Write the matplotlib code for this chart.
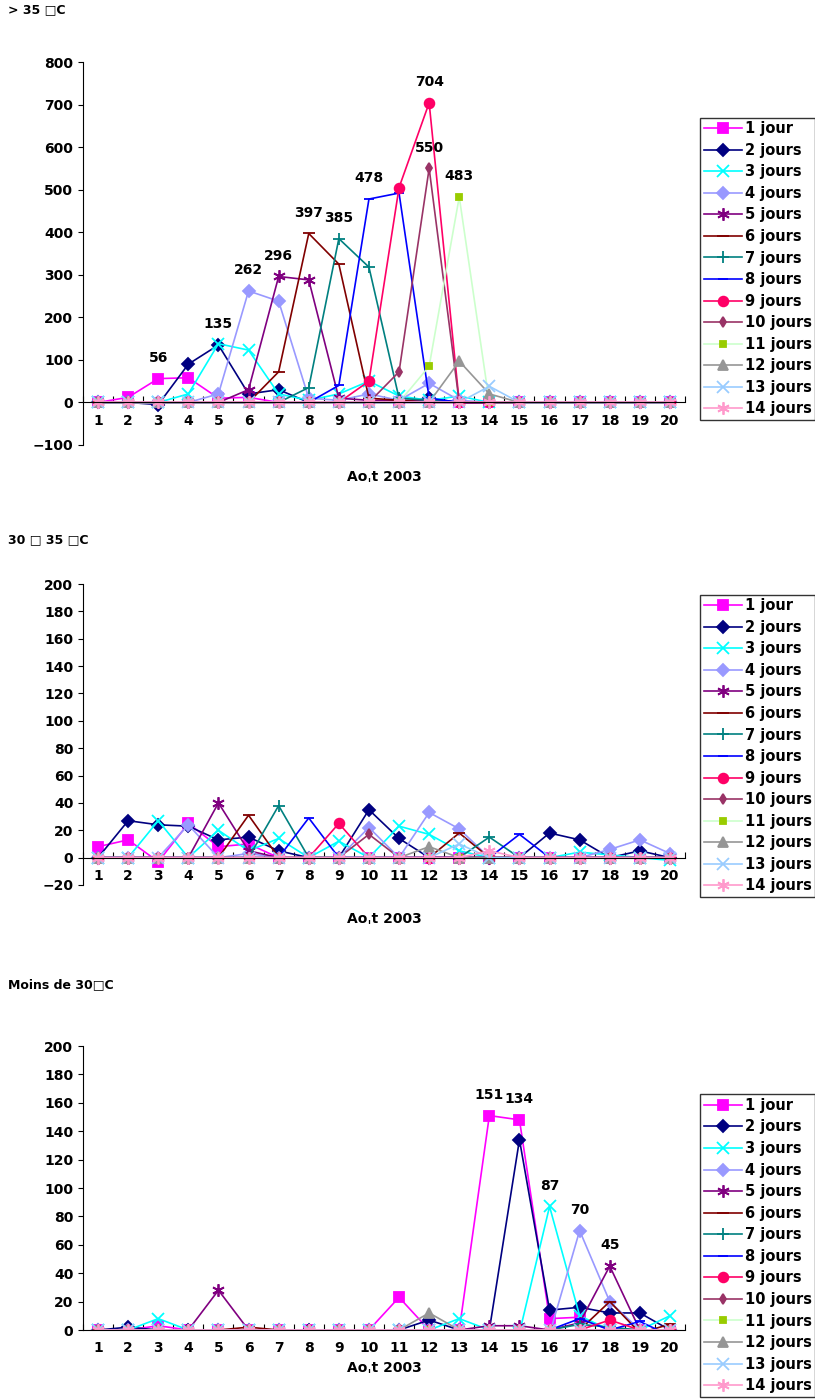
import numpy as np
import matplotlib.pyplot as plt

days = list(range(1, 21))
labels = ['1 jour'] + ['%d jours' % i for i in range(2, 15)]

# > 35 C
hot = [
    [0, 12, 56, 58, 10, 12, 0, 0, 0, 0, 0, 0, 0, 0, 0, 0, 0, 0, 0, 0],
    [0, 0, -5, 90, 135, 20, 30, 0, 0, 0, 0, 10, 0, 0, 0, 0, 0, 0, 0, 0],
    [0, 0, 0, 20, 138, 123, 20, 5, 20, 50, 15, 5, 15, 0, 0, 0, 0, 0, 0, 0],
    [0, 0, 0, 0, 20, 262, 238, 10, 5, 20, 5, 45, 5, 0, 0, 0, 0, 0, 0, 0],
    [0, 0, 0, 0, 0, 30, 296, 288, 10, 5, 5, 5, 0, 0, 0, 0, 0, 0, 0, 0],
    [0, 0, 0, 0, 0, 0, 72, 397, 325, 10, 5, 0, 0, 0, 0, 0, 0, 0, 0, 0],
    [0, 0, 0, 0, 0, 0, 0, 35, 385, 318, 10, 5, 0, 0, 0, 0, 0, 0, 0, 0],
    [0, 0, 0, 0, 0, 0, 0, 0, 40, 478, 492, 10, 0, 0, 0, 0, 0, 0, 0, 0],
    [0, 0, 0, 0, 0, 0, 0, 0, 0, 50, 505, 704, 0, 0, 0, 0, 0, 0, 0, 0],
    [0, 0, 0, 0, 0, 0, 0, 0, 0, 0, 72, 550, 0, 0, 0, 0, 0, 0, 0, 0],
    [0, 0, 0, 0, 0, 0, 0, 0, 0, 0, 0, 85, 483, 0, 0, 0, 0, 0, 0, 0],
    [0, 0, 0, 0, 0, 0, 0, 0, 0, 0, 0, 0, 97, 20, 0, 0, 0, 0, 0, 0],
    [0, 0, 0, 0, 0, 0, 0, 0, 0, 0, 0, 0, 0, 38, 0, 0, 0, 0, 0, 0],
    [0] * 20,
]
# 30 - 35 C
mid = [
    [8, 13, -3, 25, 8, 10, 0, 0, 0, 0, 0, 0, 0, 0, 0, 0, 0, 0, 0, 0],
    [0, 27, 24, 23, 13, 15, 5, 0, 0, 35, 14, 0, 0, 0, 0, 18, 13, 0, 5, 0],
    [0, 0, 27, 0, 20, 5, 14, 0, 12, 0, 23, 17, 5, 0, 0, 0, 4, 2, 0, -2],
    [0, 0, 0, 24, 0, 3, 0, 0, 0, 22, 0, 33, 21, 0, 0, 0, 0, 6, 13, 3],
    [0, 0, 0, 0, 40, 5, 0, 0, 0, 0, 0, 0, 0, 0, 0, 0, 0, 0, 0, 0],
    [0, 0, 0, 0, 0, 31, 0, 0, 0, 0, 0, 0, 18, 0, 0, 0, 0, 0, 0, 0],
    [0, 0, 0, 0, 0, 0, 38, 0, 0, 0, 0, 0, 0, 15, 0, 0, 0, 0, 0, 0],
    [0, 0, 0, 0, 0, 0, 0, 29, 0, 0, 0, 0, 0, 0, 17, 0, 0, 0, 0, 0],
    [0, 0, 0, 0, 0, 0, 0, 0, 25, 0, 0, 0, 0, 0, 0, 0, 0, 0, 0, 0],
    [0, 0, 0, 0, 0, 0, 0, 0, 0, 17, 0, 0, 0, 0, 0, 0, 0, 0, 0, 0],
    [0] * 20,
    [0, 0, 0, 0, 0, 0, 0, 0, 0, 0, 0, 8, 0, 0, 0, 0, 0, 0, 0, 0],
    [0, 0, 0, 0, 0, 0, 0, 0, 0, 0, 0, 0, 10, 0, 0, 0, 0, 0, 0, 0],
    [0, 0, 0, 0, 0, 0, 0, 0, 0, 0, 0, 0, 0, 5, 0, 0, 0, 0, 0, 0],
]
# moins de 30 C
low = [
    [0, 0, 3, 0, 0, 0, 0, 0, 0, 0, 23, 0, 0, 151, 148, 8, 9, 0, 0, 0],
    [0, 2, 0, 0, 0, 0, 0, 0, 0, 0, 0, 7, 0, 0, 134, 14, 16, 12, 12, 0],
    [0, 0, 8, 0, 0, 0, 0, 0, 0, 0, 0, 0, 8, 0, -2, 87, 10, 0, 0, 10],
    [0, 0, 0, -2, 0, 0, 0, -2, 0, 0, 0, 0, 0, 0, -3, -3, 70, 20, 0, 0],
    [0, 0, 0, 0, 28, 0, 0, 0, 0, 0, 0, 0, 0, 3, 3, 0, 5, 45, 0, 0],
    [0, 0, 0, 0, 0, 2, 0, 0, 0, 0, 0, 0, 0, 0, 0, -2, 0, 20, -2, 4],
    [0, 0, 0, 0, 0, 0, 0, 0, 0, 0, 0, 0, 0, 0, 0, 0, 4, 2, 0, 0],
    [0, 0, 0, 0, 0, 0, 0, -2, 0, 0, 0, 0, 0, 0, 0, 0, 8, 0, 6, -4],
    [0, 0, 0, 0, 0, 0, 0, 0, 0, 0, 0, 0, 0, 0, 0, 0, 0, 7, 0, 0],
    [0] * 20,
    [0] * 20,
    [0, 0, 0, 0, 0, 0, 0, 0, 0, 0, 0, 12, 0, 0, 0, 0, 0, 0, 0, 0],
    [0] * 20,
    [0] * 20,
]
hot_notes = [(3, 56), (5, 135), (6, 262), (7, 296), (8, 397), (9, 385), (10, 478), (12, 704), (12, 550), (13, 483)]
low_notes = [(14, 151), (15, 148), (16, 87), (17, 70), (18, 45)]
low_texts = ['151', '134', '87', '70', '45']

ast = (6, 2, 0)
styles = [
    ('#FF00FF', 's', '#FF00FF', 7), ('#000080', 'D', '#000080', 6), ('#00FFFF', 'x', '#00FFFF', 8),
    ('#9999FF', 'D', '#9999FF', 6), ('#800080', ast, '#800080', 9), ('#800000', '_', '#800000', 9),
    ('#008080', '+', '#008080', 9), ('#0000FF', '_', '#0000FF', 7), ('#FF0066', 'o', '#FF0066', 7),
    ('#993366', 'd', '#993366', 5), ('#CCFFCC', 's', '#99CC00', 5), ('#969696', '^', '#969696', 7),
    ('#99CCFF', 'x', '#99CCFF', 8), ('#FF99CC', ast, '#FF99CC', 9),
]

fig = plt.figure(figsize=(8.15, 14), dpi=100)
W, H = 815, 1400
# data, title, y range, axes top/bottom px, title y px, notes, note texts, xlabel y, legend top
panels = [
    (hot, '> 35 \u25a1C', (-100, 800, 100), (62, 445), 10, hot_notes, None, -0.065, 0.855),
    (mid, '30 \u25a1 35 \u25a1C', (-20, 200, 20), (584, 885), 540, None, None, -0.09, 0.965),
    (low, 'Moins de 30\u25a1C', (0, 200, 20), (1046, 1330), 985, low_notes, low_texts, None, 0.83),
]
for data, title, (lo, hi, st), (top, bot), ty, notes, ntext, xly, lgy in panels:
    ax = fig.add_axes([83 / W, 1 - bot / H, 602 / W, (bot - top) / H])
    for vals, lab, (c, m, mc, ms) in zip(data, labels, styles):
        ax.plot(days, vals, color=c, marker=m, markerfacecolor=mc, markeredgecolor=mc,
                markersize=ms, lw=1.2, label=lab, mew=1.3)
    ax.set_xlim(0.5, 20.5)
    ax.set_ylim(lo, hi)
    ax.set_yticks(np.arange(lo, hi + 1, st))
    ax.spines['top'].set_visible(False)
    ax.spines['right'].set_visible(False)
    ax.spines['bottom'].set_position(('data', 0))
    ax.set_xticks(np.arange(0.5, 21, 1))
    ax.set_xticklabels([])
    ax.tick_params(axis='x', direction='in', length=4)
    ax.set_xticks(days, minor=True)
    ax.set_xticklabels([str(d) for d in days], minor=True, fontweight='bold', fontsize=10)
    ax.tick_params(axis='x', which='minor', length=0, pad=8)
    ax.tick_params(axis='y', labelsize=10)
    for t in ax.get_yticklabels():
        t.set_fontweight('bold')
    ax.set_xlabel('Ao\u02cct 2003', fontweight='bold', fontsize=10)
    if xly is not None:
        ax.xaxis.set_label_coords(0.5, xly)
    fig.text(8 / W, 1 - ty / H, title, fontsize=9, fontweight='bold', va='center')
    if notes:
        for i, (d, v) in enumerate(notes):
            txt = ntext[i] if ntext else str(v)
            ax.annotate(txt, (d, v), xytext=(0, 12), textcoords='offset points',
                        ha='center', fontweight='bold', fontsize=10)
    leg = ax.legend(loc='upper left', bbox_to_anchor=(1.025, lgy),
                    frameon=True, fancybox=False, edgecolor='black',
                    prop={'weight': 'bold', 'size': 10.5}, handlelength=2.6,
                    borderaxespad=0, labelspacing=0.45, borderpad=0.25, handletextpad=0.2)
    leg.get_frame().set_linewidth(1.0)

fig.savefig('out.png', dpi=100)
